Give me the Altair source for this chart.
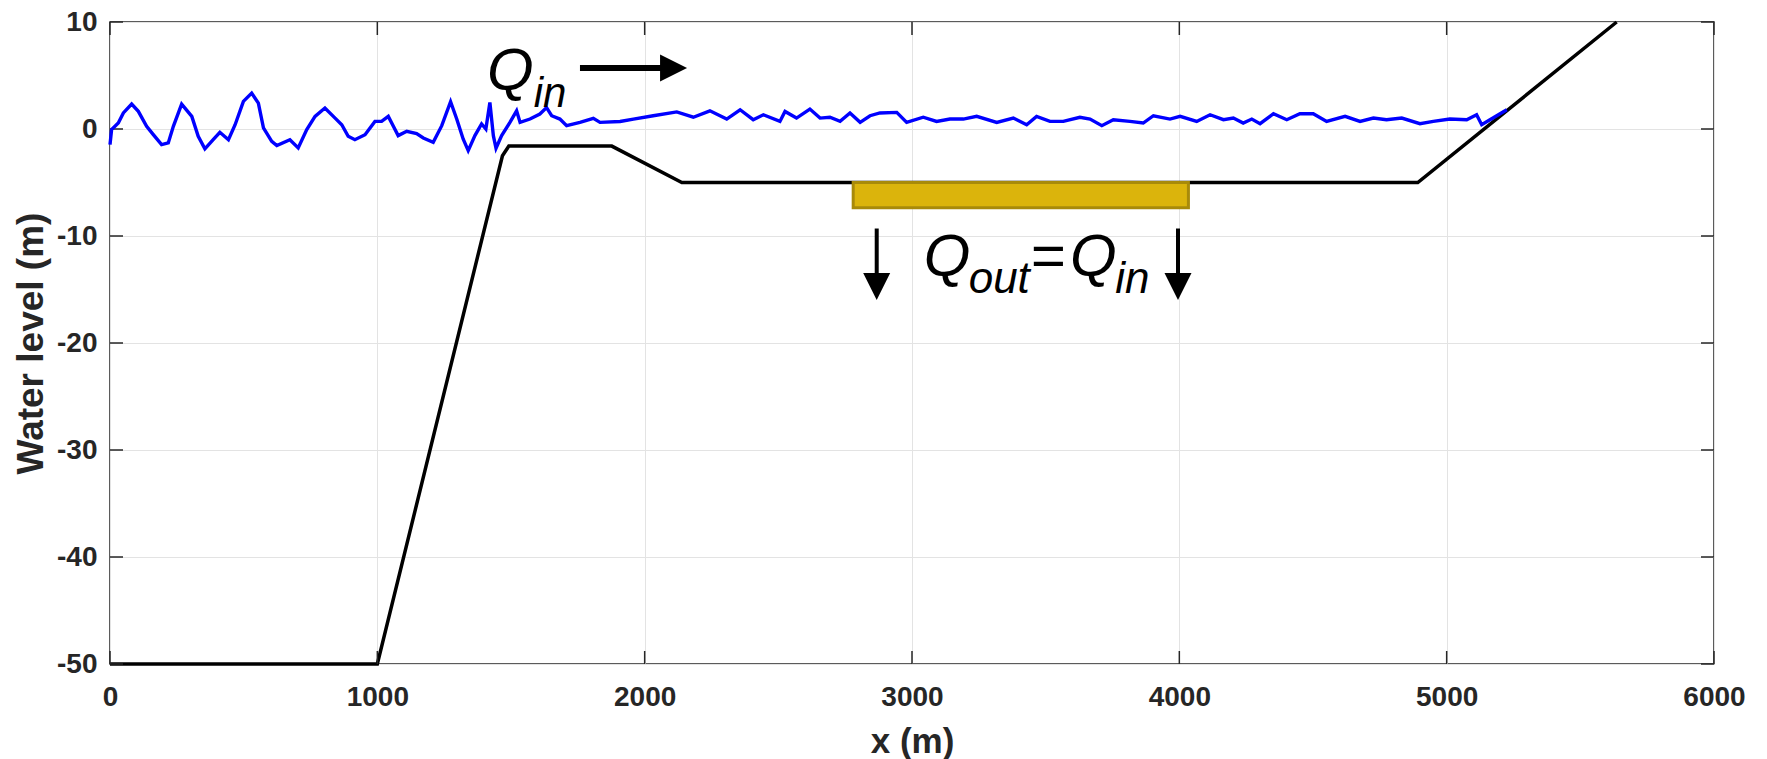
import altair as alt
import pandas as pd

# ---------------- data ----------------
wave_x = [0, 6, 31, 50, 81, 106, 137, 162, 193, 218, 237, 268, 306, 330, 355, 386, 411, 443,
          468, 499, 530, 555, 574, 605, 624, 673, 704, 736, 767, 804, 842, 867, 891, 916,
          954, 991, 1016, 1041, 1060, 1078, 1110, 1147, 1172, 1209, 1241, 1274, 1297, 1321,
          1340, 1365, 1390, 1406, 1421, 1434, 1444, 1465, 1496, 1521, 1534, 1571, 1608, 1633,
          1652, 1683, 1708, 1758, 1808, 1833, 1908, 1958, 2032, 2120, 2182, 2244, 2307, 2357,
          2406, 2444, 2506, 2525, 2568, 2618, 2656, 2693, 2731, 2768, 2806, 2843, 2880, 2943,
          2980, 3042, 3092, 3142, 3192, 3242, 3317, 3379, 3429, 3466, 3516, 3566, 3628, 3666,
          3710, 3753, 3815, 3865, 3903, 3965, 4003, 4065, 4115, 4165, 4202, 4239, 4271, 4302,
          4352, 4402, 4451, 4501, 4551, 4620, 4676, 4726, 4775, 4832, 4900, 4950, 5012, 5075,
          5112, 5131, 5162, 5225]
wave_y = [-1.46, -0.06, 0.56, 1.5, 2.33, 1.65, 0.25, -0.53, -1.46, -1.3, 0.25, 2.33, 1.18, -0.68,
          -1.86, -1.0, -0.31, -1.0, 0.4, 2.58, 3.35, 2.42, 0.1, -1.15, -1.55, -1.0, -1.77, -0.06,
          1.18, 1.96, 1.02, 0.4, -0.68, -1.0, -0.53, 0.71, 0.71, 1.18, 0.25, -0.62, -0.22, -0.43,
          -0.84, -1.24, 0.31, 2.55, 0.93, -0.93, -2.02, -0.62, 0.47, 0.0, 2.48, -0.62, -1.8,
          -0.62, 0.62, 1.7, 0.62, 0.93, 1.4, 2.0, 1.24, 0.93, 0.31, 0.62, 1.0, 0.62, 0.7, 0.93,
          1.24, 1.6, 1.1, 1.7, 0.93, 1.8, 0.87, 1.33, 0.71, 1.64, 1.02, 1.86, 1.02, 1.1, 0.71,
          1.5, 0.62, 1.24, 1.5, 1.55, 0.62, 1.1, 0.71, 0.93, 0.93, 1.18, 0.62, 1.02, 0.4, 1.18,
          0.71, 0.71, 1.1, 0.93, 0.31, 0.87, 0.71, 0.56, 1.24, 0.93, 1.18, 0.71, 1.33, 0.87,
          1.02, 0.56, 0.93, 0.5, 1.43, 0.87, 1.43, 1.43, 0.71, 1.18, 0.71, 1.02, 0.87, 1.02,
          0.5, 0.71, 0.93, 0.87, 1.33, 0.4, 0.87, 1.8]

bed_x = [0, 1000, 1468, 1492, 1877, 2139, 4892, 5636]
bed_y = [-50, -50, -2.5, -1.6, -1.6, -5, -5, 10]

drain_x = [2780]
drain_x2 = [4034]
drain_y = [-5.0]
drain_y2 = [-7.35]

x_ticks = [0, 1000, 2000, 3000, 4000, 5000, 6000]
y_ticks = [-50, -40, -30, -20, -10, 0, 10]

# annotation text pieces
txt_t = ["Q", "in", "Q", "out", "=", "Q", "in"]
txt_x = [1410, 1585, 3044, 3212, 3441, 3591, 3760]
txt_y = [3.66, 2.07, -13.76, -15.3, -13.76, -13.76, -15.3]
txt_s = [60, 42, 60, 44, 60, 60, 44]

# arrows: shafts and heads
shaft_x = [1758, 2868, 3995]
shaft_x2 = [2108, 2868, 3995]
shaft_y = [5.7, -9.3, -9.3]
shaft_y2 = [5.7, -14.72, -14.72]
head_x = [2108, 2868, 3995]
head_y = [5.7, -14.72, -14.72]
head_dir = ["right", "down", "down"]

# ---------------- chart ----------------
W, H = 1604, 642
FONT = "Liberation Sans"
TXT = "#262626"
LABEL_EXPR = "'' + datum.value"

xs = alt.Scale(domain=[0, 6000], nice=False, zero=False)
ys = alt.Scale(domain=[-50, 10], nice=False, zero=False)

x_axis = alt.Axis(values=x_ticks, title="x (m)", grid=True, ticks=False, tickSize=0,
                  domain=False, labelPadding=19, labelFontSize=28, labelFontWeight="bold",
                  labelFont=FONT, labelColor=TXT, labelFlush=False, labelExpr=LABEL_EXPR,
                  titleFont=FONT, titleFontSize=35,
                  titleFontWeight="bold", titleColor=TXT, titleY=88, titleX=W / 2,
                  titleBaseline="alphabetic", titleAlign="center",
                  gridColor="#E3E3E3", gridWidth=1)
y_axis = alt.Axis(values=y_ticks, title="Water level (m)", grid=True, ticks=False, tickSize=0,
                  domain=False, labelPadding=13, labelFontSize=28, labelFontWeight="bold",
                  labelFont=FONT, labelColor=TXT, labelFlush=False, labelExpr=LABEL_EXPR,
                  titleFont=FONT, titleFontSize=37,
                  titleFontWeight="bold", titleColor=TXT, titleX=-68, titleY=H / 2,
                  titleAngle=270, titleBaseline="alphabetic", titleAlign="center",
                  gridColor="#E3E3E3", gridWidth=1)

X = alt.X("x:Q", scale=xs, axis=x_axis)
Y = alt.Y("y:Q", scale=ys, axis=y_axis)

bed_df = pd.DataFrame({"x": bed_x, "y": bed_y})
wave_df = pd.DataFrame({"x": wave_x, "y": wave_y})

bed = alt.Chart(bed_df).mark_line(color="black", strokeWidth=3.5, clip=False).encode(x=X, y=Y)

wave = alt.Chart(wave_df).mark_line(color="#0000FF", strokeWidth=3.4,
                                    strokeJoin="miter").encode(x=X, y=Y)

drain_df = pd.DataFrame({"x": drain_x, "x2": drain_x2, "y": drain_y, "y2": drain_y2})
drain = alt.Chart(drain_df).mark_rect(fill="#DBB40C", stroke="#A88A0A", strokeWidth=3).encode(
    x=X, x2="x2:Q", y=Y, y2="y2:Q",
)

# inward ticks (MATLAB style) on all four sides
xt_df = pd.DataFrame({"x": x_ticks})
yt_df = pd.DataFrame({"y": y_ticks})
tick_col = "#262626"
xt_bottom = alt.Chart(xt_df).mark_rule(color=tick_col, strokeWidth=1.5).encode(
    x=X, y=alt.value(H), y2=alt.value(H - 13))
xt_top = alt.Chart(xt_df).mark_rule(color=tick_col, strokeWidth=1.5).encode(
    x=X, y=alt.value(0), y2=alt.value(13))
yt_left = alt.Chart(yt_df).mark_rule(color=tick_col, strokeWidth=1.5).encode(
    y=Y, x=alt.value(0), x2=alt.value(13))
yt_right = alt.Chart(yt_df).mark_rule(color=tick_col, strokeWidth=1.5).encode(
    y=Y, x=alt.value(W - 13), x2=alt.value(W))

txt_df = pd.DataFrame({"t": txt_t, "x": txt_x, "y": txt_y, "s": txt_s})
texts = alt.Chart(txt_df).mark_text(font=FONT, fontStyle="italic", align="left",
                                    baseline="alphabetic", color="black").encode(
    x=X, y=Y,
    text="t:N",
    size=alt.Size("s:Q", scale=None, legend=None),
)

shaft_df = pd.DataFrame({"x": shaft_x, "x2": shaft_x2, "y": shaft_y, "y2": shaft_y2,
                         "w": [6, 4, 4]})
shafts = alt.Chart(shaft_df).mark_rule(color="black", strokeCap="butt").encode(
    x=X, x2="x2:Q", y=Y, y2="y2:Q",
    strokeWidth=alt.StrokeWidth("w:Q", scale=None, legend=None),
)

head_df = pd.DataFrame({"x": head_x, "y": head_y, "d": head_dir})
heads = alt.Chart(head_df).mark_point(filled=True, size=729, opacity=1, color="black").encode(
    x=X, y=Y,
    shape=alt.Shape("d:N", scale=alt.Scale(domain=["right", "down"],
                                          range=["M-1,-1L1,0L-1,1Z", "M-1,-1L1,-1L0,1Z"]),
                    legend=None),
)

chart = alt.layer(
    bed, drain, xt_bottom, xt_top, yt_left, yt_right, wave, texts, shafts, heads
).properties(
    width=W, height=H,
    autosize=alt.AutoSizeParams(type="none"),
    padding={"left": 110, "top": 22, "right": 53, "bottom": 95},
    background="white",
).configure_view(
    stroke="#262626", strokeWidth=1.5
)

chart.save("out.html", embed_options={"renderer": "svg", "actions": False})
